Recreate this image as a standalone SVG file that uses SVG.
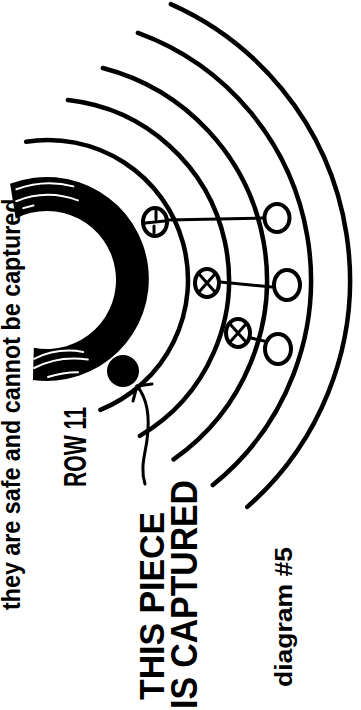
<svg xmlns="http://www.w3.org/2000/svg" width="361" height="710" viewBox="0 0 361 710">
<style>
.arc{fill:none;stroke:#000;stroke-width:4.5;stroke-linecap:round}
.streak{fill:none;stroke:#fff;stroke-width:2;stroke-linecap:round}
.ring{fill:#fff;stroke:#000;stroke-width:4}
.mark{fill:none;stroke:#000;stroke-width:3;stroke-linecap:round}
.link{fill:none;stroke:#000;stroke-width:3;stroke-linecap:round}
.lbl{font-family:"Liberation Sans",Arial,sans-serif;font-weight:bold;fill:#000}
</style>
<rect width="361" height="710" fill="#fff"/>
<g id="caption-top">
<text class="lbl" font-size="26" transform="translate(19.5,610) rotate(-90)" textLength="418" lengthAdjust="spacingAndGlyphs">they are safe and cannot be captured.</text>
</g>
<g id="rings">
<path class="arc" d="M26.1,141.7 A140,140 0 0 1 100.4,409.8"/>
<path class="arc" d="M67.9,100.1 A181,181 0 0 1 139.9,435.9"/>
<path class="arc" d="M102.8,68 A219,219 0 0 1 173.6,459.4"/>
<path class="arc" d="M137.9,32.9 A263,263 0 0 1 212.8,485"/>
<path class="arc" d="M170.8,4.1 A302,302 0 0 1 247.3,506.9"/>
</g>
<g id="row11-marker">
<path d="M10.1,183.8 A102,102 0 1 1 32.9,380 L33.8,347.7 A69,69 0 1 0 15.7,218.5 Z" fill="#000"/>
<path class="streak" d="M16.4,189.3 A97,97 0 0 1 73.4,186.4"/>
<path class="streak" d="M16.2,201.2 A85,85 0 0 1 77.9,200.4"/>
<path class="streak" stroke-width="1.5" d="M23.3,208.1 A76,76 0 0 1 33.5,205.4"/>
<path class="streak" d="M34.1,358.8 A80,80 0 0 1 83.1,351.9"/>
<path class="streak" d="M34.1,368.0 A89,89 0 0 1 87.8,359.6"/>
<path class="streak" stroke-width="1.5" d="M48,377 A97,97 0 0 1 78,372.2"/>
</g>
<g id="captured-piece">
<circle cx="123" cy="371" r="16" fill="#000"/>
</g>
<g id="connectors">
<path class="link" stroke-width="3.5" d="M137,386 C147,398 150,418 147,440 C145,455 140,468 145,484"/>
<path class="link" stroke-width="3.5" d="M133,401 L137,386 L152,384"/>
<path class="link" d="M168,220 L263,218"/>
<path class="link" d="M220,282 L272,287"/>
<path class="link" d="M251,338 L264,341"/>
</g>
<g id="x1">
<ellipse class="ring" cx="155" cy="222" rx="12" ry="14"/>
<path class="mark" d="M145,223 L165,221 M156,211 L156,219 M154,226 L154,233"/>
</g>
<g id="x2">
<ellipse class="ring" cx="207" cy="283" rx="12" ry="14"/>
<path class="mark" d="M199,274 L215,292 M215,274 L199,292"/>
</g>
<g id="x3">
<ellipse class="ring" cx="238" cy="333" rx="12" ry="14"/>
<path class="mark" d="M230,324 L246,342 M246,324 L230,342"/>
</g>
<g id="o1"><ellipse class="ring" cx="277" cy="218" rx="12.5" ry="14"/></g>
<g id="o2"><ellipse class="ring" cx="287" cy="285" rx="13" ry="15"/></g>
<g id="o3"><ellipse class="ring" cx="278" cy="349" rx="13" ry="15"/></g>
<g id="labels">
<text class="lbl" font-size="32" transform="translate(86,487) rotate(-90)" textLength="80" lengthAdjust="spacingAndGlyphs">ROW 11</text>
<text class="lbl" font-size="35" transform="translate(164,700) rotate(-90)" textLength="188" lengthAdjust="spacingAndGlyphs">THIS PIECE</text>
<text class="lbl" font-size="37" transform="translate(197,709) rotate(-90)" textLength="229" lengthAdjust="spacingAndGlyphs">IS CAPTURED</text>
<text class="lbl" font-size="24" transform="translate(292,687) rotate(-90)" textLength="140" lengthAdjust="spacingAndGlyphs">diagram #5</text>
</g>
</svg>
